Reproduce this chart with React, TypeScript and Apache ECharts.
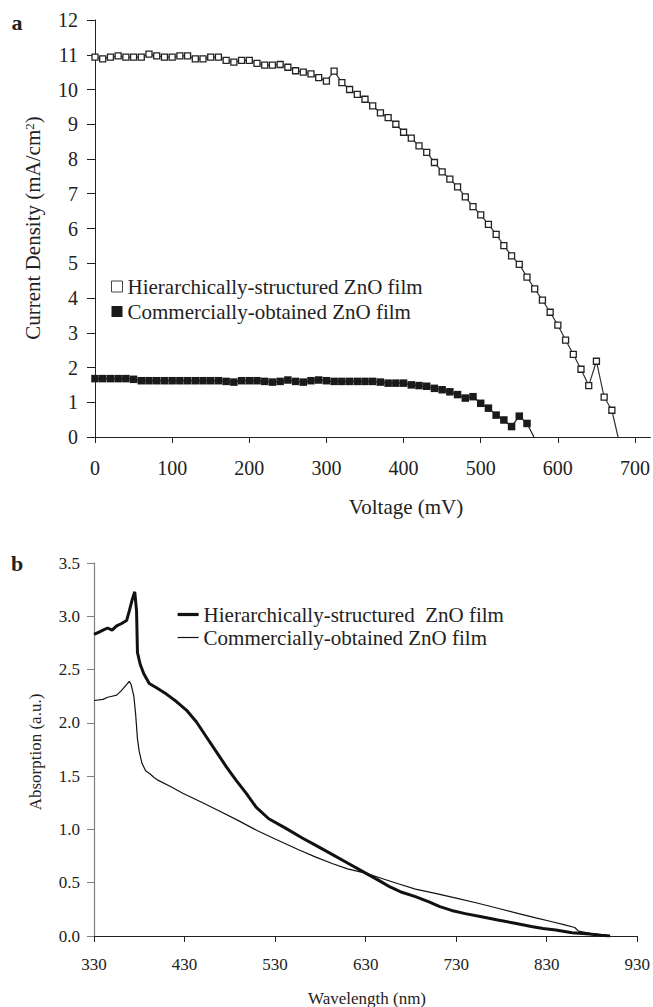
import React, { useEffect, useRef } from "react";
import * as echarts from "echarts";

const FONT = '"Liberation Serif", "Times New Roman", Times, serif';
const INK = "#222";

// ---------- Panel a : J-V curves ----------
const NAME_H = "Hierarchically-structured ZnO film";
const NAME_C = "Commercially-obtained ZnO film";

const voltageTicks = [0, 100, 200, 300, 400, 500, 600, 700];

const voltageH = [
  0, 10, 20, 30, 40, 50, 60, 70, 80, 90,
  100, 110, 120, 130, 140, 150, 160, 170, 180, 190,
  200, 210, 220, 230, 240, 250, 260, 270, 280, 290,
  300, 310, 320, 330, 340, 350, 360, 370, 380, 390,
  400, 410, 420, 430, 440, 450, 460, 470, 480, 490,
  500, 510, 520, 530, 540, 550, 560, 570, 580, 590,
  600, 610, 620, 630, 640, 650, 660, 670,
];
const currentH = [
  10.93, 10.88, 10.93, 10.97, 10.93, 10.93, 10.93, 11.02, 10.97, 10.93,
  10.93, 10.97, 10.97, 10.88, 10.88, 10.93, 10.93, 10.84, 10.79, 10.84,
  10.84, 10.75, 10.7, 10.7, 10.72, 10.64, 10.54, 10.5, 10.45, 10.34,
  10.24, 10.53, 10.2, 10.0, 9.86, 9.72, 9.53, 9.33, 9.19, 9.0,
  8.77, 8.6, 8.38, 8.19, 7.9, 7.63, 7.42, 7.2, 6.91, 6.63,
  6.39, 6.12, 5.83, 5.51, 5.21, 4.97, 4.6, 4.26, 3.94, 3.59,
  3.22, 2.79, 2.38, 1.95, 1.48, 2.18, 1.15, 0.77,
];
const endH = [678, 0];

const voltageC = [
  0, 10, 20, 30, 40, 50, 60, 70, 80, 90,
  100, 110, 120, 130, 140, 150, 160, 170, 180, 190,
  200, 210, 220, 230, 240, 250, 260, 270, 280, 290,
  300, 310, 320, 330, 340, 350, 360, 370, 380, 390,
  400, 410, 420, 430, 440, 450, 460, 470, 480, 490,
  500, 510, 520, 530, 540, 550, 560,
];
const currentC = [
  1.68, 1.68, 1.68, 1.68, 1.68, 1.66, 1.62, 1.62, 1.62, 1.62,
  1.62, 1.62, 1.62, 1.62, 1.62, 1.62, 1.62, 1.6, 1.58, 1.62,
  1.62, 1.62, 1.6, 1.58, 1.6, 1.64, 1.6, 1.58, 1.62, 1.64,
  1.62, 1.6, 1.6, 1.6, 1.6, 1.6, 1.6, 1.58, 1.55, 1.55,
  1.55, 1.5, 1.48, 1.46, 1.4, 1.36, 1.3, 1.22, 1.12, 1.16,
  0.97, 0.83, 0.63, 0.49, 0.3, 0.6, 0.39,
];
const endC = [569, 0];

// ---------- Panel b : absorption spectra ----------
const NAME_BH = "Hierarchically-structured  ZnO film";
const NAME_BC = "Commercially-obtained ZnO film";

const wavelengthTicks = [330, 430, 530, 630, 730, 830, 930];

const wavelengthH = [
  330, 335, 340, 345, 350, 355, 360, 366, 369, 372,
  375, 377, 378, 381, 385, 391, 399, 410, 421, 432,
  443, 454, 465, 476, 487, 498, 509, 523, 542, 560,
  575, 590, 611, 630, 645, 657, 670, 685, 700, 712,
  725, 740, 758, 776, 795, 813, 826, 840, 858, 877,
  890, 900,
];
const absorbH = [
  2.83, 2.85, 2.87, 2.89, 2.87, 2.91, 2.93, 2.96, 3.05, 3.15,
  3.23, 3.05, 2.66, 2.55, 2.46, 2.37, 2.33, 2.27, 2.2, 2.12,
  2.01, 1.87, 1.73, 1.59, 1.46, 1.34, 1.21, 1.1, 1.01, 0.92,
  0.85, 0.78, 0.68, 0.59, 0.52, 0.46, 0.41, 0.37, 0.32, 0.275,
  0.24, 0.21, 0.18, 0.15, 0.12, 0.09, 0.07, 0.056, 0.03, 0.019,
  0.008, 0.0,
];

const wavelengthC = [
  330, 340, 345, 350, 355, 360, 365, 369, 371, 374,
  376, 378, 380, 383, 387, 392, 396, 401, 415, 428,
  450, 469, 490, 510, 530, 556, 575, 593, 610, 630,
  648, 666, 685, 707, 730, 753, 776, 799, 818, 836,
  850, 861, 865, 878, 890, 900,
];
const absorbC = [
  2.21, 2.22, 2.24, 2.25, 2.26, 2.3, 2.35, 2.39, 2.36, 2.25,
  2.08, 1.85, 1.73, 1.62, 1.55, 1.52, 1.49, 1.46, 1.4, 1.34,
  1.25, 1.17, 1.08, 0.99, 0.91, 0.81, 0.74, 0.68, 0.63, 0.59,
  0.54, 0.49, 0.44, 0.4, 0.355, 0.31, 0.26, 0.21, 0.17, 0.134,
  0.105, 0.08, 0.045, 0.025, 0.01, 0.0,
];

const pair = (xs: number[], ys: number[]) => xs.map((x, i) => [x, ys[i]]);

const txt = (o: any) => ({ fontFamily: FONT, fill: INK, ...o });

export default function App() {
  const refA = useRef<HTMLDivElement>(null);
  const refB = useRef<HTMLDivElement>(null);

  useEffect(() => {
    document.body.style.margin = "0";
    const ca = echarts.init(refA.current!, null, { renderer: "svg" });
    const cb = echarts.init(refB.current!, null, { renderer: "svg" });

    const optA: any = {
      animation: false,
      grid: { left: 95, top: 20, width: 556.5, height: 417 },
      xAxis: {
        type: "value",
        min: 0,
        max: 720,
        axisLine: { show: true, onZero: false, lineStyle: { color: INK, width: 1 } },
        axisTick: { show: true, length: 6, customValues: voltageTicks, lineStyle: { color: INK } },
        axisLabel: {
          customValues: voltageTicks,
          fontFamily: FONT,
          fontSize: 20,
          color: INK,
          margin: 21,
        },
        splitLine: { show: false },
      },
      yAxis: {
        type: "value",
        min: 0,
        max: 12,
        interval: 1,
        axisLine: { show: true, lineStyle: { color: INK, width: 1 } },
        axisTick: { show: true, length: 8, lineStyle: { color: INK } },
        axisLabel: { fontFamily: FONT, fontSize: 20, color: INK, margin: 17 },
        splitLine: { show: false },
      },
      legend: {
        orient: "vertical",
        left: 106,
        top: 271,
        itemWidth: 11,
        itemHeight: 11,
        itemGap: 4,
        selectedMode: false,
        textStyle: { fontFamily: FONT, fontSize: 21, color: INK, lineHeight: 21 },
        data: [
          { name: NAME_H, icon: "rect", itemStyle: { color: "#fff", borderColor: "#444", borderWidth: 1 } },
          { name: NAME_C, icon: "rect", itemStyle: { color: "#1a1a1a", borderWidth: 0 } },
        ],
      },
      series: [
        {
          name: NAME_H,
          type: "line",
          data: [...pair(voltageH, currentH), { value: endH, symbol: "none" }],
          symbol: "rect",
          symbolSize: 6,
          showAllSymbol: true,
          itemStyle: { color: "#fff", borderColor: "#222", borderWidth: 1.3 },
          lineStyle: { color: "#333", width: 1.2 },
          z: 3,
        },
        {
          name: NAME_C,
          type: "line",
          data: [...pair(voltageC, currentC), { value: endC, symbol: "none" }],
          symbol: "rect",
          symbolSize: 7.5,
          showAllSymbol: true,
          itemStyle: { color: "#1a1a1a", borderWidth: 0 },
          lineStyle: { color: "#1a1a1a", width: 1.2 },
          z: 3,
        },
      ],
      graphic: [
        {
          type: "text",
          x: 17,
          y: 22,
          style: txt({ text: "a", fontSize: 22, fontWeight: "bold", align: "center", verticalAlign: "middle" }),
        },
        {
          type: "text",
          x: 33,
          y: 228,
          rotation: Math.PI / 2,
          style: txt({
            text: "{n|Current Density (mA/cm}{s|2}{n|)}",
            align: "center",
            verticalAlign: "middle",
            rich: {
              n: { fontFamily: FONT, fontSize: 21, fill: INK, color: INK, verticalAlign: "bottom" },
              s: { fontFamily: FONT, fontSize: 13, fill: INK, color: INK, verticalAlign: "top" },
            },
          }),
        },
        {
          type: "text",
          x: 406,
          y: 507,
          style: txt({ text: "Voltage (mV)", fontSize: 21, align: "center", verticalAlign: "middle" }),
        },
      ],
    };

    const optB: any = {
      animation: false,
      grid: { left: 94, top: 33, width: 546, height: 373 },
      xAxis: {
        type: "value",
        min: 330,
        max: 930,
        axisLine: { show: true, onZero: false, lineStyle: { color: INK, width: 1 } },
        axisTick: { show: true, length: 6, customValues: wavelengthTicks, lineStyle: { color: INK } },
        axisLabel: {
          customValues: wavelengthTicks,
          fontFamily: FONT,
          fontSize: 17,
          color: INK,
          margin: 20,
        },
        splitLine: { show: false },
      },
      yAxis: {
        type: "value",
        min: 0,
        max: 3.5,
        interval: 0.5,
        axisLine: { show: true, lineStyle: { color: "#808080", width: 1.2 } },
        axisTick: { show: true, length: 7, lineStyle: { color: "#808080" } },
        axisLabel: {
          fontFamily: FONT,
          fontSize: 17,
          color: INK,
          margin: 14,
          formatter: (v: number) => v.toFixed(1),
        },
        splitLine: { show: false },
      },
      legend: {
        orient: "vertical",
        left: 171,
        top: 69,
        itemWidth: 21,
        itemHeight: 12,
        itemGap: 2,
        selectedMode: false,
        textStyle: { fontFamily: FONT, fontSize: 21, color: INK, lineHeight: 21 },
        data: [
          {
            name: NAME_BH,
            itemStyle: { opacity: 0, color: "rgba(0,0,0,0)", borderColor: "rgba(0,0,0,0)" },
            lineStyle: { width: 3.2, color: "#111", opacity: 1 },
          },
          {
            name: NAME_BC,
            itemStyle: { opacity: 0, color: "rgba(0,0,0,0)", borderColor: "rgba(0,0,0,0)" },
            lineStyle: { width: 1.2, color: "#111", opacity: 1 },
          },
        ],
      },
      series: [
        {
          name: NAME_BH,
          type: "line",
          data: pair(wavelengthH, absorbH),
          symbol: "none",
          itemStyle: { color: "#111" },
          lineStyle: { color: "#111", width: 3 },
          z: 3,
        },
        {
          name: NAME_BC,
          type: "line",
          data: pair(wavelengthC, absorbC),
          symbol: "none",
          itemStyle: { color: "#111" },
          lineStyle: { color: "#111", width: 1.2 },
          z: 2,
        },
      ],
      graphic: [
        {
          type: "text",
          x: 17,
          y: 33,
          style: txt({ text: "b", fontSize: 22, fontWeight: "bold", align: "center", verticalAlign: "middle" }),
        },
        {
          type: "text",
          x: 35,
          y: 222,
          rotation: Math.PI / 2,
          style: txt({ text: "Absorption (a.u.)", fontSize: 17, align: "center", verticalAlign: "middle" }),
        },
        {
          type: "text",
          x: 367,
          y: 468,
          style: txt({ text: "Wavelength (nm)", fontSize: 17, align: "center", verticalAlign: "middle" }),
        },
      ],
    };

    ca.setOption(optA);
    cb.setOption(optB);
    return () => {
      ca.dispose();
      cb.dispose();
    };
  }, []);

  return (
    <div style={{ position: "relative", width: 653, height: 1007 }}>
      <div ref={refA} style={{ position: "absolute", left: 0, top: 0, width: 653, height: 530 }} />
      <div ref={refB} style={{ position: "absolute", left: 0, top: 530, width: 653, height: 477 }} />
    </div>
  );
}
